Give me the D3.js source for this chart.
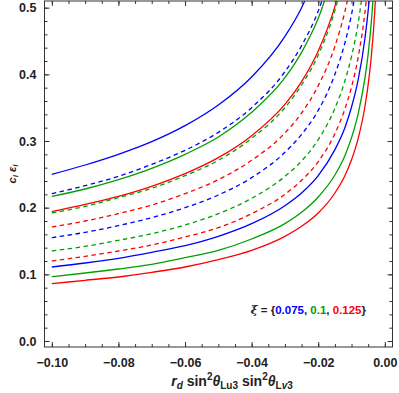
<!DOCTYPE html>
<html>
<head>
<meta charset="utf-8">
<script src="https://cdn.jsdelivr.net/npm/d3@7"></script>
<style>
  body { margin: 0; background: #fff; }
  text { font-family: "Liberation Sans", Arial, sans-serif; font-weight: bold; }
  .tick text { font-size: 12.5px; fill: #222; }
  .frame { fill: none; stroke: #333; stroke-width: 1; }
</style>
</head>
<body>
<div id="chart"></div>
<script>
var xs = [-0.10, -0.09, -0.08, -0.07, -0.06, -0.05, -0.04, -0.03, -0.025, -0.02,
          -0.015, -0.012, -0.01, -0.008, -0.006, -0.005, -0.004, -0.003, -0.0025];

// each curve: values along xs (stops once it leaves the top of the frame)
var blueSolidA  = [0.250, 0.264, 0.280, 0.299, 0.323, 0.354, 0.396, 0.457, 0.500, 0.559];
var blueDashA   = [0.221, 0.233, 0.247, 0.265, 0.286, 0.313, 0.350, 0.404, 0.443, 0.495, 0.572];
var greenSolidA = [0.217, 0.228, 0.242, 0.259, 0.280, 0.306, 0.343, 0.395, 0.433, 0.484, 0.559];
var redSolidA   = [0.194, 0.205, 0.217, 0.232, 0.251, 0.275, 0.308, 0.355, 0.389, 0.435, 0.502, 0.561];
var greenDashA  = [0.192, 0.202, 0.215, 0.229, 0.248, 0.271, 0.304, 0.350, 0.384, 0.429, 0.496, 0.554];
var redDashA    = [0.171, 0.180, 0.191, 0.204, 0.221, 0.242, 0.271, 0.312, 0.342, 0.383, 0.442, 0.494, 0.541];
var blueDashB   = [0.155, 0.163, 0.173, 0.185, 0.200, 0.219, 0.245, 0.283, 0.310, 0.346, 0.400, 0.447, 0.490, 0.548];
var greenDashB  = [0.135, 0.142, 0.151, 0.161, 0.174, 0.191, 0.214, 0.247, 0.270, 0.302, 0.349, 0.390, 0.427, 0.477, 0.551];
var redDashB    = [0.120, 0.127, 0.135, 0.144, 0.156, 0.170, 0.191, 0.220, 0.241, 0.269, 0.311, 0.348, 0.381, 0.426, 0.492, 0.539];
var blueSolidB  = [0.111, 0.117, 0.124, 0.133, 0.143, 0.157, 0.176, 0.203, 0.222, 0.248, 0.287, 0.320, 0.351, 0.392, 0.453, 0.496, 0.555];
var greenSolidB = [0.0965, 0.102, 0.108, 0.115, 0.125, 0.136, 0.153, 0.176, 0.193, 0.216, 0.249, 0.278, 0.305, 0.341, 0.394, 0.431, 0.482, 0.557];
var redSolidB   = [0.086, 0.091, 0.096, 0.103, 0.111, 0.122, 0.136, 0.157, 0.172, 0.192, 0.222, 0.248, 0.272, 0.304, 0.351, 0.385, 0.430, 0.497, 0.544];

var xTicks = [-0.10, -0.08, -0.06, -0.04, -0.02, 0.00];
var yTicks = [0.0, 0.1, 0.2, 0.3, 0.4, 0.5];
var xiValues = ["0.075", "0.1", "0.125"];

var colors = { blue: "#0000ff", green: "#00a000", red: "#ff0000" };

var series = [
    { values: blueSolidA,  color: colors.blue,  dashed: false },
    { values: blueDashA,   color: colors.blue,  dashed: true },
    { values: greenSolidA, color: colors.green, dashed: false },
    { values: redSolidA,   color: colors.red,   dashed: false },
    { values: greenDashA,  color: colors.green, dashed: true },
    { values: redDashA,    color: colors.red,   dashed: true },
    { values: blueDashB,   color: colors.blue,  dashed: true },
    { values: greenDashB,  color: colors.green, dashed: true },
    { values: redDashB,    color: colors.red,   dashed: true },
    { values: blueSolidB,  color: colors.blue,  dashed: false },
    { values: greenSolidB, color: colors.green, dashed: false },
    { values: redSolidB,   color: colors.red,   dashed: false }
];

var W = 399, H = 393;
var margin = { left: 44.5, right: 6.5, top: 1, bottom: 46 };
var width = W - margin.left - margin.right;
var height = H - margin.top - margin.bottom;

var svg = d3.select("#chart").append("svg")
    .attr("width", W)
    .attr("height", H);

var g = svg.append("g")
    .attr("transform", `translate(${margin.left},${margin.top})`);

var x = d3.scaleLinear().domain([-0.1022, 0.0023]).range([0, width]);
var y = d3.scaleLinear().domain([-0.009, 0.51]).range([height, 0]);

g.append("clipPath").attr("id", "clip")
    .append("rect").attr("width", width).attr("height", height);

var fmtX = function (d) { return d === 0 ? "0.00" : d3.format(".2f")(d).replace("-", "\u2212"); };
var fmtY = d3.format(".1f");

var xMinor = d3.range(-0.100, 0.0001, 0.005);
var yMinor = d3.range(0, 0.5001, 0.02);

// minor ticks (inward, all four sides)
var drawMinor = function (axis, tr) {
    var a = g.append("g").attr("transform", tr).call(axis);
    a.selectAll("text").remove();
    a.select(".domain").remove();
    a.selectAll("line").attr("stroke", "#333");
};
drawMinor(d3.axisBottom(x).tickValues(xMinor).tickSize(-3), `translate(0,${height})`);
drawMinor(d3.axisTop(x).tickValues(xMinor).tickSize(-3), "translate(0,0)");
drawMinor(d3.axisLeft(y).tickValues(yMinor).tickSize(-3), "translate(0,0)");
drawMinor(d3.axisRight(y).tickValues(yMinor).tickSize(-3), `translate(${width},0)`);

// major ticks
var xAxis = g.append("g").attr("transform", `translate(0,${height})`)
    .call(d3.axisBottom(x).tickValues(xTicks).tickSize(-5).tickPadding(11).tickFormat(fmtX));
var yAxis = g.append("g")
    .call(d3.axisLeft(y).tickValues(yTicks).tickSize(-5).tickPadding(8).tickFormat(fmtY));
var xTop = g.append("g").call(d3.axisTop(x).tickValues(xTicks).tickSize(-5).tickFormat(""));
var yRight = g.append("g").attr("transform", `translate(${width},0)`)
    .call(d3.axisRight(y).tickValues(yTicks).tickSize(-5).tickFormat(""));
[xAxis, yAxis, xTop, yRight].forEach(function (a) {
    a.select(".domain").remove();
    a.selectAll("line").attr("stroke", "#333");
});

// curves
var line = d3.line()
    .x(function (d) { return x(d[0]); })
    .y(function (d) { return y(d[1]); })
    .curve(d3.curveMonotoneX);

g.append("g").attr("clip-path", "url(#clip)")
    .selectAll("path")
    .data(series)
    .enter().append("path")
    .attr("d", function (s) {
        return line(s.values.map(function (v, i) { return [xs[i], v]; }));
    })
    .attr("fill", "none")
    .attr("stroke", function (s) { return s.color; })
    .attr("stroke-width", 1.3)
    .attr("stroke-dasharray", function (s) { return s.dashed ? "4.5,3.5" : null; });

g.append("rect").attr("class", "frame")
    .attr("width", width).attr("height", height);

// legend text
var leg = g.append("text")
    .attr("x", 321.5)
    .attr("y", 313)
    .attr("text-anchor", "end")
    .style("font-size", "11.5px")
    .attr("fill", "#222");
leg.append("tspan").style("font-style", "italic").style("font-family", "'DejaVu Serif', serif").text("\u03be");
leg.append("tspan").text(" = {");
xiValues.forEach(function (v, i) {
    leg.append("tspan").attr("fill", [colors.blue, colors.green, colors.red][i]).text(v);
    if (i < xiValues.length - 1) leg.append("tspan").text(", ");
});
leg.append("tspan").text("}");

// x axis label
var xl = svg.append("text")
    .attr("x", 232)
    .attr("y", 386)
    .attr("text-anchor", "middle")
    .style("font-size", "14px")
    .attr("fill", "#222");
xl.append("tspan").style("font-style", "italic").text("r");
xl.append("tspan").style("font-style", "italic").style("font-size", "10px").attr("dy", 3).text("d");
xl.append("tspan").attr("dy", -3).text(" sin");
xl.append("tspan").style("font-size", "10px").attr("dy", -6).text("2");
xl.append("tspan").style("font-style", "italic").attr("dy", 6).text("\u03b8");
xl.append("tspan").style("font-size", "10px").attr("dy", 3).text("Lu3");
xl.append("tspan").attr("dy", -3).text(" sin");
xl.append("tspan").style("font-size", "10px").attr("dy", -6).text("2");
xl.append("tspan").style("font-style", "italic").attr("dy", 6).text("\u03b8");
xl.append("tspan").style("font-size", "10px").attr("dy", 3).text("L");
xl.append("tspan").style("font-size", "10px").style("font-style", "italic").text("v");
xl.append("tspan").style("font-size", "10px").text("3");

// y axis label
var yl = svg.append("text")
    .attr("transform", "translate(16,174) rotate(-90)")
    .attr("text-anchor", "middle")
    .style("font-size", "11px")
    .attr("fill", "#222");
yl.append("tspan").style("font-style", "italic").text("c");
yl.append("tspan").style("font-style", "italic").style("font-size", "8px").attr("dy", 2).text("l");
yl.append("tspan").style("font-style", "italic").attr("dy", -2).text(" \u03b5");
yl.append("tspan").style("font-style", "italic").style("font-size", "8px").attr("dy", 2).text("l");
</script>
</body>
</html>
